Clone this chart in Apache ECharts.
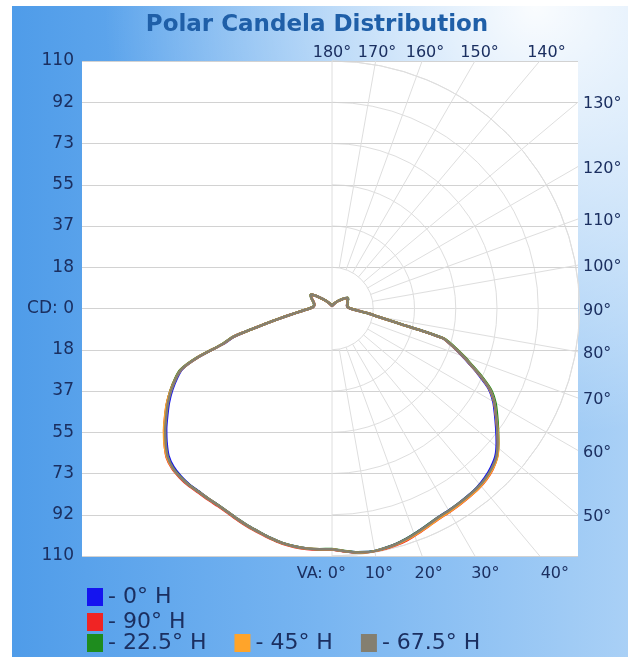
<!DOCTYPE html>
<html>
<head>
<meta charset="utf-8">
<script src="https://cdn.jsdelivr.net/npm/echarts@6/dist/echarts.min.js"></script>
<style>
    body { margin: 0; background: #fff; }
    #chart { width: 634px; height: 663px; }
</style>
</head>
<body>
<div id="chart"></div>
<script>
    // vertical angles, used for the right half (0..180) and mirrored for the left half
    var vaAngles = [0, 3, 6, 9, 12, 15, 18, 21, 24, 27, 30, 33, 36, 39, 42, 45, 48, 51, 54, 57, 60, 63, 66, 68, 70, 72, 74, 75, 76, 77, 78, 80, 82, 85, 88, 90, 95, 100, 105, 110, 115, 120, 124, 128, 132, 140, 150, 160, 170, 180];

    // candela, right half of the plot
    var cd0R = [107, 108, 108.9, 109.5, 109.1, 108.5, 107.5, 106.3, 105.1, 104.1, 103.7, 103.3, 102.9, 102.4, 101.4, 99.9, 97.8, 94.2, 90.2, 86.4, 82.8, 78.1, 70.9, 66, 61.6, 57.4, 53.3, 50.9, 41.9, 32.4, 27.4, 20.4, 16.7, 11.7, 9.1, 8.1, 7, 6.8, 7, 7.4, 7.6, 8.2, 8.4, 7.4, 6.2, 4.5, 3, 2, 1.5, 1.2];
    var cd90R = [107.1, 108.1, 109.2, 109.8, 109.5, 109, 108.2, 107, 105.8, 104.8, 104.4, 104, 103.6, 103.2, 102.4, 101, 98.6, 94.9, 90.8, 86.9, 83.3, 78.6, 71.4, 66.4, 62, 57.7, 53.5, 51, 42, 32.5, 27.5, 20.5, 16.8, 11.8, 9.2, 8.2, 7, 6.8, 7, 7.3, 7.5, 8.1, 8.3, 7.3, 6.1, 4.4, 2.9, 1.9, 1.4, 1.1];
    var cd22R = [106.9, 107.9, 108.9, 109.5, 109.1, 108.5, 107.5, 106.3, 105.1, 104.2, 103.8, 103.4, 103, 102.6, 101.9, 100.6, 98.6, 95.1, 91.2, 87.5, 83.9, 79.2, 72, 67, 62.6, 58.3, 54, 51.4, 42.3, 32.7, 27.7, 20.6, 16.9, 11.9, 9.3, 8.3, 7.1, 6.9, 7.1, 7.5, 7.7, 8.3, 8.5, 7.5, 6.3, 4.6, 3.1, 2.1, 1.6, 1.3];
    var cd45R = [107, 108, 109.1, 109.7, 109.3, 108.8, 107.9, 106.8, 105.7, 104.7, 104.3, 103.9, 103.5, 103.1, 102.3, 100.9, 98.8, 95.1, 90.9, 86.9, 83.3, 78.6, 71.4, 66.4, 62, 57.7, 53.5, 51, 42, 32.5, 27.5, 20.5, 16.8, 11.8, 9.2, 8.2, 7, 6.8, 7, 7.4, 7.6, 8.2, 8.4, 7.4, 6.2, 4.5, 3, 2, 1.5, 1.2];
    var cd67R = [107, 108, 109, 109.6, 109.2, 108.6, 107.6, 106.4, 105.2, 104.2, 103.8, 103.4, 103, 102.6, 101.8, 100.4, 98.3, 94.7, 90.7, 86.9, 83.3, 78.6, 71.4, 66.4, 62, 57.7, 53.5, 51, 42, 32.5, 27.5, 20.5, 16.8, 11.8, 9.2, 8.2, 7, 6.8, 7, 7.4, 7.6, 8.2, 8.4, 7.4, 6.2, 4.5, 3, 2, 1.5, 1.2];

    // candela, left half of the plot (same vertical angles, read on the left side)
    var cd0L = [107, 107.2, 107.2, 107, 106.5, 105.6, 104.5, 103.6, 102.6, 101.6, 101, 100.8, 100.6, 100.7, 100.4, 99.6, 97.8, 94.6, 91.1, 87.3, 83.7, 79.7, 75.3, 71.8, 63.1, 50.7, 45.3, 39.8, 34.4, 30.5, 27.1, 21.7, 17.7, 13.7, 11.1, 9.9, 8.4, 8, 8.2, 8.8, 9.8, 10.8, 11.3, 9.2, 7.2, 4.8, 3, 2, 1.5, 1.2];
    var cd90L = [107.1, 107.3, 107.5, 107.3, 106.8, 105.9, 104.9, 104, 103, 102, 101.4, 101.2, 101.1, 101.3, 101.1, 100.5, 98.9, 95.7, 92.2, 88.4, 84.7, 80.6, 76, 72.3, 63.5, 51, 45.5, 40, 34.5, 30.6, 27.2, 21.8, 17.8, 13.8, 11.2, 10, 8.4, 8, 8.2, 8.7, 9.7, 10.7, 11.2, 9.1, 7.1, 4.7, 2.9, 1.9, 1.4, 1.1];
    var cd22L = [106.9, 107.1, 107.2, 107, 106.5, 105.6, 104.5, 103.6, 102.6, 101.6, 101, 100.8, 100.7, 100.9, 100.7, 100.1, 98.4, 95.3, 91.9, 88.2, 84.6, 80.6, 76.2, 72.6, 63.9, 51.4, 45.8, 40.2, 34.6, 30.7, 27.3, 21.9, 17.9, 13.9, 11.3, 10.1, 8.5, 8.1, 8.3, 8.9, 9.9, 10.9, 11.4, 9.3, 7.3, 4.9, 3.1, 2.1, 1.6, 1.3];
    var cd45L = [107, 107.2, 107.3, 107.1, 106.6, 105.7, 104.6, 103.7, 102.7, 101.7, 101.1, 100.9, 100.8, 101, 100.9, 100.3, 98.7, 95.8, 92.3, 88.5, 84.8, 80.5, 75.9, 72.2, 63.5, 51, 45.5, 40, 34.5, 30.6, 27.2, 21.8, 17.8, 13.8, 11.2, 10, 8.4, 8, 8.2, 8.8, 9.8, 10.8, 11.3, 9.2, 7.2, 4.8, 3, 2, 1.5, 1.2];
    var cd67L = [107, 107.2, 107.3, 107.1, 106.6, 105.7, 104.6, 103.7, 102.7, 101.7, 101.1, 100.9, 100.8, 101, 100.8, 100.1, 98.3, 95.1, 91.6, 87.8, 84.2, 80.2, 75.8, 72.2, 63.5, 51, 45.5, 40, 34.5, 30.6, 27.2, 21.8, 17.8, 13.8, 11.2, 10, 8.4, 8, 8.2, 8.8, 9.8, 10.8, 11.3, 9.2, 7.2, 4.8, 3, 2, 1.5, 1.2];

    var seriesNames = ['0° H', '90° H', '22.5° H', '45° H', '67.5° H'];
    var seriesColors = ['#1414f0', '#f02424', '#1e8c1e', '#ffa42a', '#847f70'];
    var gridAngles = [0, 10, 20, 30, 40, 50, 60, 70, 80, 90, 100, 110, 120, 130, 140, 150, 160, 170, 180];
    var cdMax = 110;
    var cdStep = 110 / 6;

    var textColor = '#1b2f60';
    var gridColor = '#dedede';

    function buildPoints(right, left) {
        var pts = vaAngles.map(function (a, i) { return [right[i], a]; });
        for (var i = vaAngles.length - 2; i >= 0; i--) {
            pts.push([left[i], 360 - vaAngles[i]]);
        }
        return pts;
    }

    function radialLine(params, api) {
        var deg = api.value(0);
        var a = deg * Math.PI / 180;
        var r0 = (deg % 180 === 0) ? 0 : cdStep;
        var r1 = 200;
        var p0 = api.coord([r0 * Math.sin(a), -r0 * Math.cos(a)]);
        var p1 = api.coord([r1 * Math.sin(a), -r1 * Math.cos(a)]);
        return {
            type: 'line',
            shape: { x1: p0[0], y1: p0[1], x2: p1[0], y2: p1[1] },
            style: { stroke: gridColor, lineWidth: 1 }
        };
    }

    function angleLabel(params, api) {
        var deg = api.value(0);
        var a = deg * Math.PI / 180;
        var c = api.coord([0, 0]);
        var top = api.coord([0, cdMax])[1];
        var bottom = api.coord([0, -cdMax])[1];
        var right = params.coordSys.x + params.coordSys.width;
        var x, y, align = 'center', text = deg + '°';
        if (deg === 0) {
            x = c[0] + 14; y = bottom + 18; align = 'right'; text = 'VA: 0°';
        } else if (deg < 45) {
            y = bottom + 18; x = c[0] + (y - c[1]) * Math.tan(a);
        } else if (deg < 135) {
            x = right + 5; y = c[1] + 2 + (deg === 90 ? 0 : (right - c[0]) / Math.tan(a)); align = 'left';
        } else {
            y = top - 8; x = c[0] + (c[1] - y) * Math.tan(Math.PI - a);
        }
        return {
            type: 'text',
            x: x, y: y,
            style: { text: text, fill: textColor, font: '16px "DejaVu Sans"', align: align, verticalAlign: 'middle' }
        };
    }

    var chart = echarts.init(document.getElementById('chart'));

    var bgGradient = new echarts.graphic.LinearGradient(0, 0, 1, 0, [
        { offset: 0, color: '#4f9ce9' },
        { offset: 0.5, color: '#78b5f1' },
        { offset: 1, color: '#a9d0f6' }
    ]);
    var glow = new echarts.graphic.RadialGradient(0.85, 0, 0.7, [
        { offset: 0, color: 'rgba(255,255,255,0.95)' },
        { offset: 1, color: 'rgba(255,255,255,0)' }
    ]);

    var legendText = { color: textColor, fontSize: 22, fontFamily: 'DejaVu Sans', lineHeight: 20 };

    var option = {
        animation: false,
        graphic: [
            { type: 'rect', z: -10, shape: { x: 12, y: 6, width: 616, height: 651 }, style: { fill: bgGradient } },
            { type: 'rect', z: -9, shape: { x: 12, y: 6, width: 616, height: 651 }, style: { fill: glow } }
        ],
        title: {
            text: 'Polar Candela Distribution',
            left: 'center',
            top: 9,
            textStyle: { color: '#1f5fa8', fontSize: 23, fontWeight: 'bold', fontFamily: 'DejaVu Sans' }
        },
        legend: [{
            orient: 'vertical',
            left: 82, top: 581,
            itemWidth: 16, itemHeight: 18, itemGap: 3,
            icon: 'rect',
            data: ['0° H', '90° H'],
            formatter: '- {name}',
            textStyle: legendText
        }, {
            orient: 'horizontal',
            left: 82, top: 627,
            itemWidth: 16, itemHeight: 18, itemGap: 28,
            icon: 'rect',
            data: ['22.5° H', '45° H', '67.5° H'],
            formatter: '- {name}',
            textStyle: legendText
        }],
        grid: {
            left: 82, top: 61, width: 496, height: 495,
            show: true, backgroundColor: '#ffffff', borderWidth: 0
        },
        xAxis: { type: 'value', min: -111.1, max: 109.3, show: false },
        yAxis: {
            type: 'value', min: -cdMax, max: cdMax, interval: cdStep,
            axisLine: { show: false }, axisTick: { show: false },
            axisLabel: {
                color: textColor, fontSize: 17, fontFamily: 'DejaVu Sans', margin: 8,
                formatter: function (v) {
                    var n = Math.abs(Math.round(v));
                    return n === 0 ? 'CD: 0' : String(n);
                }
            },
            splitLine: { lineStyle: { color: '#d2d2d2' } }
        },
        polar: [
            { center: [332, 308.5], radius: 247.5 },
            { center: [332, 308.5], radius: 247.5 }
        ],
        angleAxis: [{
            polarIndex: 0, type: 'value', min: 0, max: 180,
            startAngle: -90, endAngle: 90, clockwise: false,
            axisLine: { show: false }, axisTick: { show: false },
            axisLabel: { show: false }, splitLine: { show: false }
        }, {
            polarIndex: 1, type: 'value', min: 0, max: 360,
            startAngle: -90, clockwise: false, show: false
        }],
        radiusAxis: [{
            polarIndex: 0, type: 'value', min: 0, max: cdMax, interval: cdStep,
            axisLine: { show: false }, axisTick: { show: false }, axisLabel: { show: false },
            splitLine: { show: true, lineStyle: { color: gridColor } }
        }, {
            polarIndex: 1, type: 'value', min: 0, max: cdMax, show: false
        }],
        series: [{
            type: 'custom', name: 'radial', z: 1, clip: true, silent: true,
            coordinateSystem: 'cartesian2d',
            data: gridAngles.map(function (a) { return [a, 0]; }),
            renderItem: radialLine
        }, {
            type: 'custom', name: 'angleLabels', z: 4, clip: false, silent: true,
            coordinateSystem: 'cartesian2d',
            data: gridAngles.map(function (a) { return [a, 0]; }),
            renderItem: angleLabel
        }].concat([[cd0R, cd0L], [cd90R, cd90L], [cd22R, cd22L], [cd45R, cd45L], [cd67R, cd67L]].map(function (pair, i) {
            return {
                type: 'line', name: seriesNames[i], coordinateSystem: 'polar', polarIndex: 1,
                z: 3, showSymbol: false, smooth: 0.2,
                color: seriesColors[i],
                lineStyle: { width: 2.5, color: seriesColors[i] },
                data: buildPoints(pair[0], pair[1])
            };
        }))
    };

    chart.setOption(option);
</script>
</body>
</html>
